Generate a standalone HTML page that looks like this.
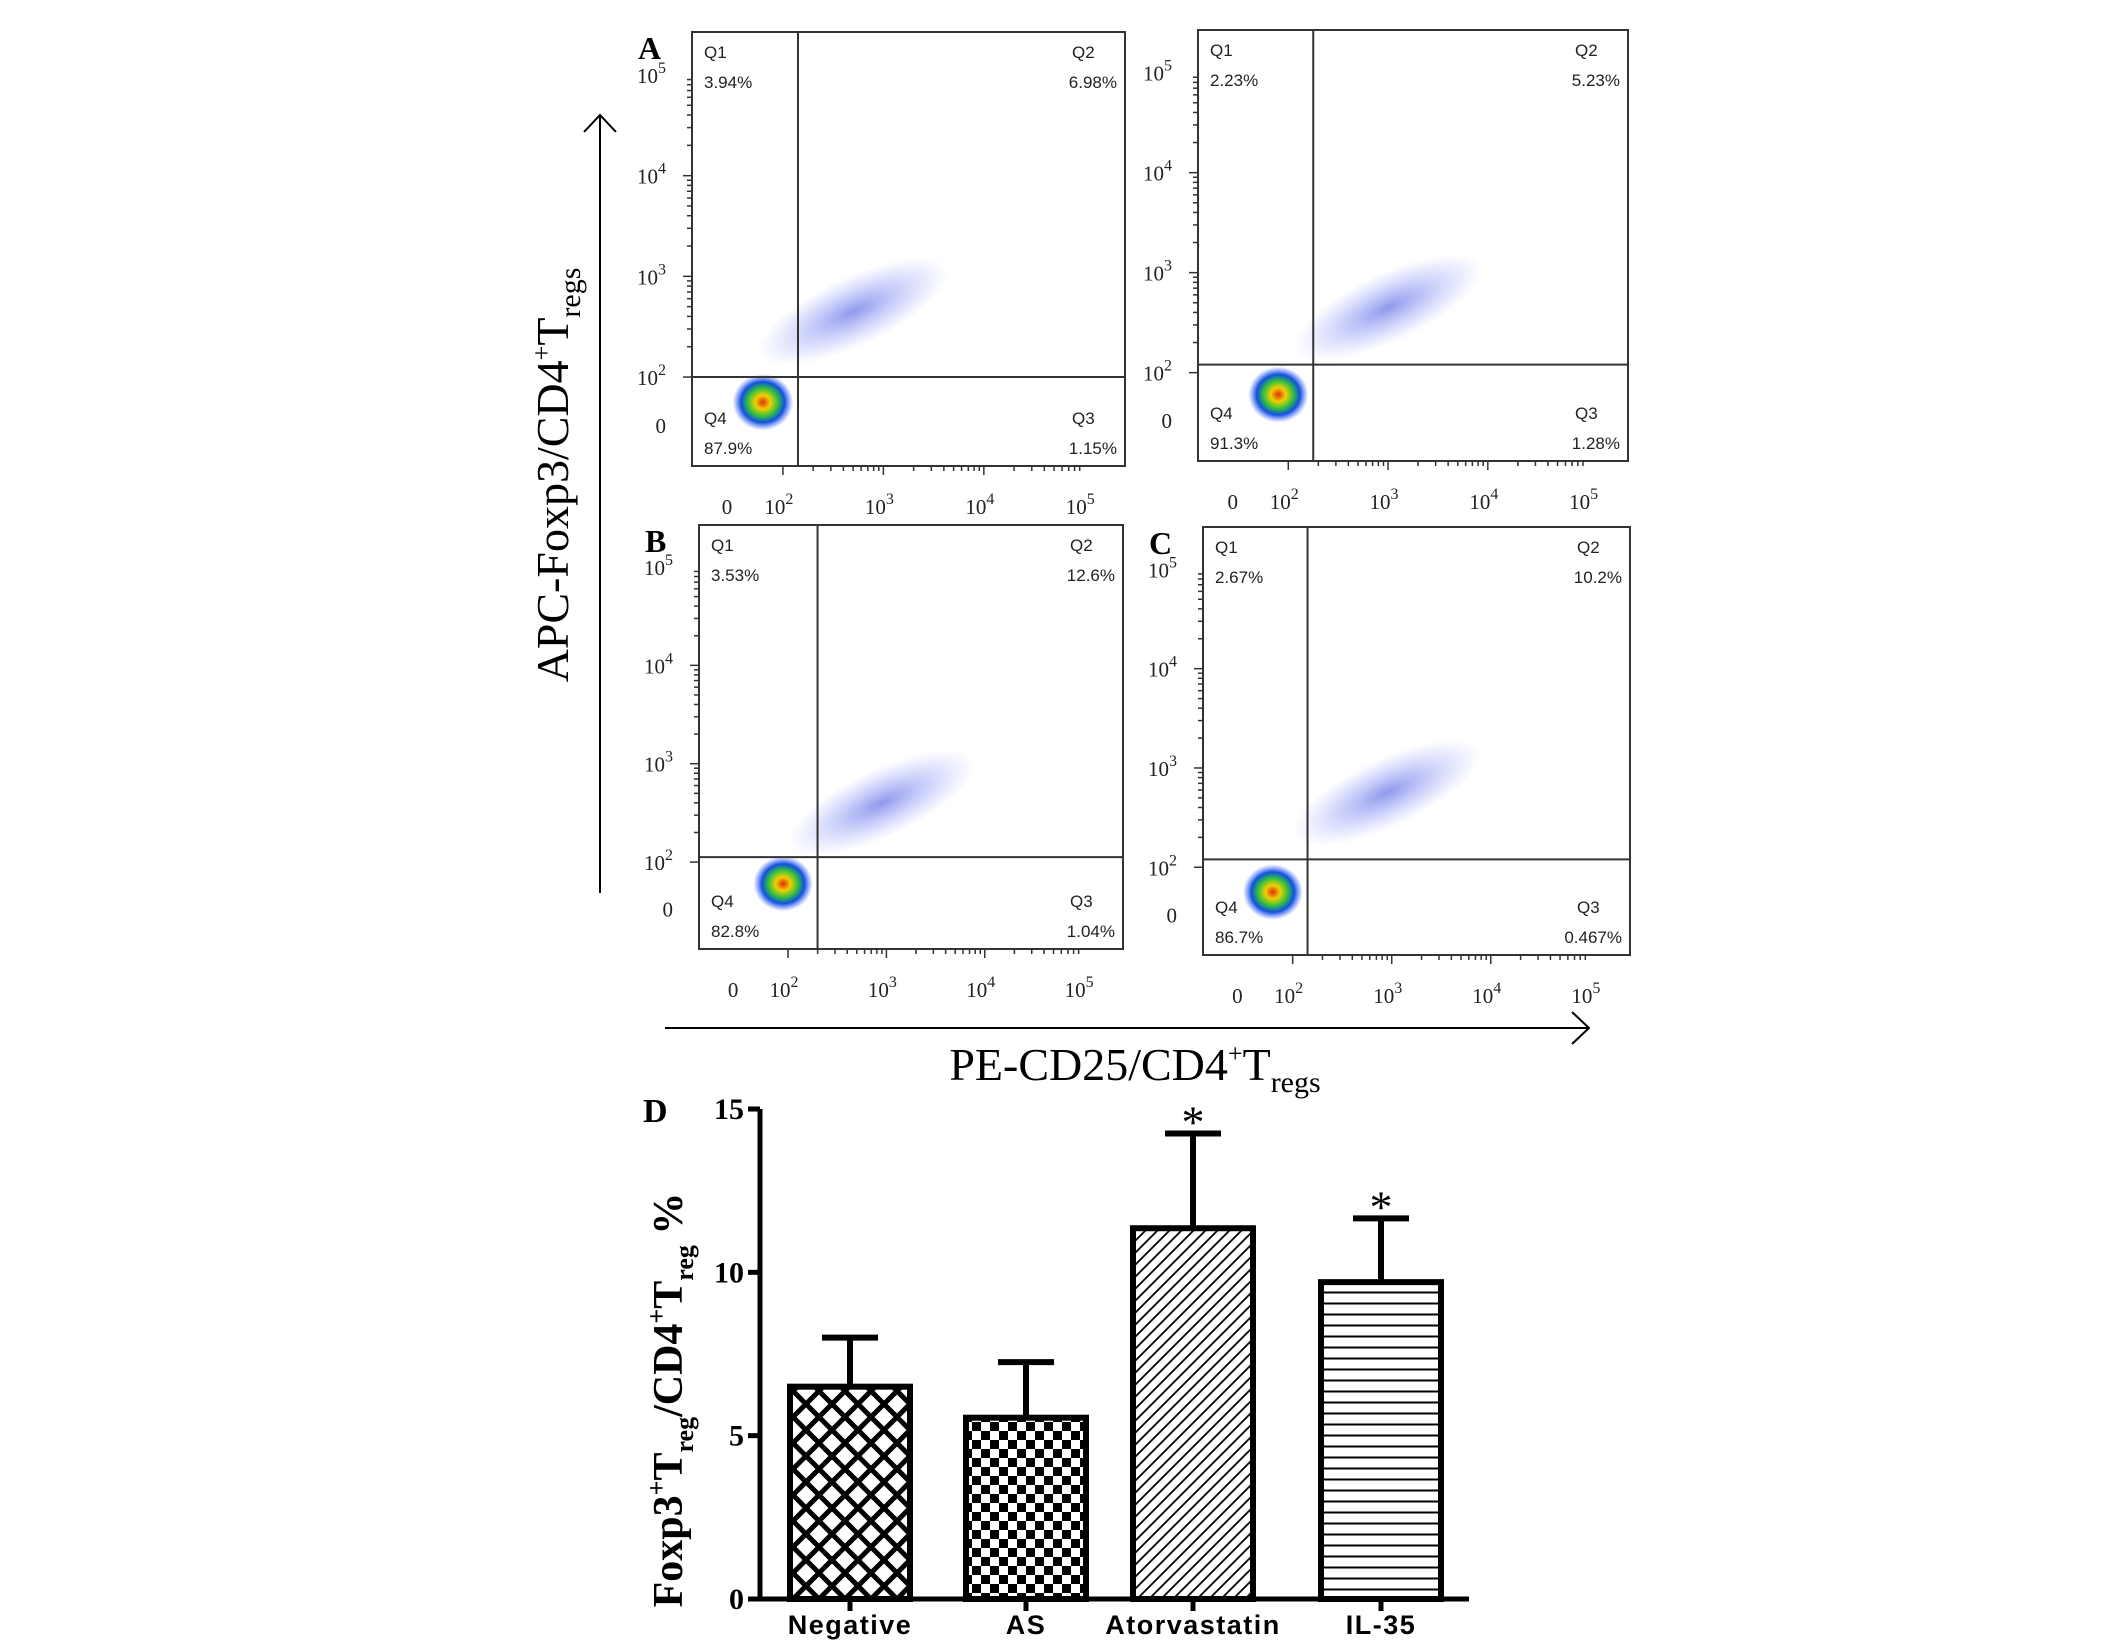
<!DOCTYPE html>
<html><head><meta charset="utf-8"><style>
body{margin:0;background:#fff;overflow:hidden;}
svg{display:block;}
</style></head><body>
<svg id="fig" width="2126" height="1650" viewBox="0 0 2126 1650" xmlns="http://www.w3.org/2000/svg">
<defs>
<radialGradient id="blob" cx="50%" cy="50%" r="50%">
<stop offset="0%" stop-color="#e03010"/><stop offset="25%" stop-color="#f0d000"/><stop offset="50%" stop-color="#30c040"/><stop offset="72%" stop-color="#1050e0"/><stop offset="100%" stop-color="#4060ff" stop-opacity="0"/>
</radialGradient>
<radialGradient id="cloud" cx="50%" cy="50%" r="50%">
<stop offset="0%" stop-color="#3344dd" stop-opacity="0.55"/><stop offset="100%" stop-color="#6677ff" stop-opacity="0"/>
</radialGradient>
<pattern id="pat-cross" width="26" height="26" patternUnits="userSpaceOnUse">
<path d="M0 0L26 26M26 0L0 26" stroke="#000" stroke-width="5"/></pattern>
<pattern id="pat-check" width="18" height="18" patternUnits="userSpaceOnUse">
<rect x="0" y="0" width="9" height="9" fill="#000"/><rect x="9" y="9" width="9" height="9" fill="#000"/></pattern>
<pattern id="pat-diag" width="12" height="12" patternUnits="userSpaceOnUse">
<path d="M-3 15L15 -3M-3 3L3 -3M9 15L15 9" stroke="#000" stroke-width="1.8"/></pattern>
<pattern id="pat-horiz" width="10" height="11" patternUnits="userSpaceOnUse">
<path d="M0 5.5H10" stroke="#000" stroke-width="2"/></pattern>
</defs>
<g id="flow"></g>
<g id="bar"></g>
</svg>
<script>
// ---------- Flow cytometry panel data ----------
const panelNames = ['A','','B','C'];
const q1Vals = ['3.94%','2.23%','3.53%','2.67%'];
const q2Vals = ['6.98%','5.23%','12.6%','10.2%'];
const q3Vals = ['1.15%','1.28%','1.04%','0.467%'];
const q4Vals = ['87.9%','91.3%','82.8%','86.7%'];
const gateX = [2.15, 2.25, 2.3, 2.15];
const gateY = [2.0, 2.08, 2.05, 2.08];
const blobX = [1.8, 1.9, 1.95, 1.8];
const blobY = [1.75, 1.78, 1.78, 1.75];
const cloudX = [2.7, 3.0, 2.95, 2.95];
const cloudY = [2.65, 2.65, 2.6, 2.75];
const xTickLabels = ['0','10','10','10','10'];
const xTickExp = ['','2','3','4','5'];
const tickDecades = [null,2,3,4,5];

const boxes = [[692,32,433,434],[1198,30,430,431],[699,525,424,424],[1203,527,427,428]];
const NS='http://www.w3.org/2000/svg';
function mk(tag, attrs, parent){const e=document.createElementNS(NS,tag);for(const k in attrs)e.setAttribute(k,attrs[k]);parent.appendChild(e);return e;}
const flow=document.getElementById('flow');

boxes.forEach((b,i)=>{
  const [L,T,W,H]=b;
  const g=mk('g',{},flow);
  
  
  const xs=v=>L+W*(0.21+(v-2)*0.232);
  const ys=v=>T+H*(0.795-(v-2)*0.232);
  const zeroX=L+W*0.09, zeroY=T+H*0.905;
  const c=mk('ellipse',{cx:xs(cloudX[i]),cy:ys(cloudY[i]),rx:W*0.24,ry:H*0.08,fill:'url(#cloud)',transform:`rotate(-25 ${xs(cloudX[i])} ${ys(cloudY[i])})`},g);
  
  
  const bl=mk('ellipse',{cx:xs(blobX[i]),cy:ys(blobY[i]),rx:W*0.07,ry:H*0.065,fill:'url(#blob)'},g);
  
  
  const r=mk('rect',{x:L,y:T,width:W,height:H,fill:'none',stroke:'#333','stroke-width':2},g);
  
  
  const gv=mk('line',{x1:xs(gateX[i]),x2:xs(gateX[i]),y1:T,y2:T+H,stroke:'#333','stroke-width':2},g);
  
  
  const gh=mk('line',{x1:L,x2:L+W,y1:ys(gateY[i]),y2:ys(gateY[i]),stroke:'#333','stroke-width':2},g);
  
  
  for(let d=2;d<5;d++)for(let m=1;m<10;m++){const v=d+Math.log10(m);
    mk('line',{x1:xs(v),x2:xs(v),y1:T+H,y2:T+H+(m==1?9:5),stroke:'#333','stroke-width':1.5},g);
    mk('line',{y1:ys(v),y2:ys(v),x1:L,x2:L-(m==1?9:5),stroke:'#333','stroke-width':1.5},g);}
  const qs=[['Q1',q1Vals[i],L+12,T+26,'start'],['Q2',q2Vals[i],L+W-8,T+26,'end'],['Q4',q4Vals[i],L+12,T+H-42,'start'],['Q3',q3Vals[i],L+W-8,T+H-42,'end']];
  qs.forEach(q=>{
    const t=mk('text',{x:q[4]=='end'?q[2]-45:q[2],y:q[3],'font-family':'Liberation Sans, sans-serif','font-size':17,fill:'#222'},g);t.textContent=q[0];
    
    
    const p=mk('text',{x:q[2],y:q[3]+30,'text-anchor':q[4],'font-family':'Liberation Sans, sans-serif','font-size':17,fill:'#222'},g);p.textContent=q[1];
    
    
  });
  tickDecades.forEach((d,k)=>{
    const x=d===null?zeroX:xs(d), y=d===null?zeroY:ys(d);
    const tx=mk('text',{x:x-4,y:T+H+48,'text-anchor':'middle','font-family':'Liberation Serif, serif','font-size':21,fill:'#222'},g);
    tx.textContent=xTickLabels[k];
    if(xTickExp[k]){const s=mk('tspan',{dy:-10,'font-size':16},tx);s.textContent=xTickExp[k];}
    
    
    const ty=mk('text',{x:L-26,y:y+8,'text-anchor':'end','font-family':'Liberation Serif, serif','font-size':21,fill:'#222'},g);
    ty.textContent=xTickLabels[k];
    if(xTickExp[k]){const s=mk('tspan',{dy:-10,'font-size':16},ty);s.textContent=xTickExp[k];}
    
    
  });
  if(panelNames[i]){const pl=mk('text',{x:L-54,y:T+27,'font-family':'Liberation Serif, serif','font-weight':'bold','font-size':32},g);pl.textContent=panelNames[i];
    
    }
});
(function(){
  const ax=mk('path',{d:'M665 1028H1589M1572 1012L1589 1028L1572 1044',fill:'none',stroke:'#000','stroke-width':2},flow);
  
  
  const ay=mk('path',{d:'M600 893V115M584 132L600 115L616 132',fill:'none',stroke:'#000','stroke-width':2},flow);
  
  
  const xt=mk('text',{x:1135,y:1080,'text-anchor':'middle','font-family':'Liberation Serif, serif','font-size':46},flow);
  xt.innerHTML='PE-CD25/CD4<tspan dy="-18" font-size="26">+</tspan><tspan dy="18">T</tspan><tspan dy="12" font-size="30">regs</tspan>';
  
  
  const yt=mk('text',{x:0,y:0,'text-anchor':'middle','font-family':'Liberation Serif, serif','font-size':46,transform:'translate(568 475) rotate(-90)'},flow);
  yt.innerHTML='APC-Foxp3/CD4<tspan dy="-18" font-size="26">+</tspan><tspan dy="18">T</tspan><tspan dy="12" font-size="30">regs</tspan>';
  
  
})();

// ---------- Bar chart data ----------
const categories = ['Negative','AS','Atorvastatin','IL-35'];
const means = [6.5, 5.55, 11.35, 9.7];
const errs = [1.5, 1.7, 2.9, 1.95];
const sig = ['', '', '*', '*'];
const yTicks = [0, 5, 10, 15];
const patterns = ['url(#pat-cross)','url(#pat-check)','url(#pat-diag)','url(#pat-horiz)'];

const bar=document.getElementById('bar');
const y0=1599, yTop=1109, axX=760, axEnd=1469;
const yScale=v=>y0-(y0-yTop)*v/15;
const barCenters=[850,1026,1193,1381];
const bw=120;
const xScale=i=>barCenters[i];
const axis=mk('path',{d:`M${axX} ${yTop}V${y0}H${axEnd}`,fill:'none',stroke:'#000','stroke-width':5},bar);


yTicks.forEach(t=>{
  mk('line',{x1:axX-12,x2:axX,y1:yScale(t),y2:yScale(t),stroke:'#000','stroke-width':5},bar);
  const tx=mk('text',{x:axX-16,y:yScale(t)+10,'text-anchor':'end','font-family':'Liberation Serif, serif','font-weight':'bold','font-size':30},bar);
  tx.textContent=t;
  
  
});
categories.forEach((c,i)=>{
  const cx=xScale(i);
  const top=yScale(means[i]), et=yScale(means[i]+errs[i]);
  const el=mk('line',{x1:cx,x2:cx,y1:et,y2:top,stroke:'#000','stroke-width':6},bar);
  
  
  const cap=mk('line',{x1:cx-28,x2:cx+28,y1:et,y2:et,stroke:'#000','stroke-width':6},bar);
  
  
  mk('rect',{x:cx-bw/2,y:top,width:bw,height:y0-top,fill:'#fff'},bar);
  const r=mk('rect',{x:cx-bw/2,y:top,width:bw,height:y0-top,fill:patterns[i],stroke:'#000','stroke-width':6},bar);
  
  
  mk('line',{x1:cx,x2:cx,y1:y0,y2:y0+12,stroke:'#000','stroke-width':5},bar);
  const lb=mk('text',{x:cx,y:1634,'text-anchor':'middle','font-family':'Liberation Sans, sans-serif','font-weight':'bold','font-size':27,'letter-spacing':1.5},bar);
  lb.textContent=c;
  
  
  if(sig[i]){const s=mk('text',{x:cx,y:et+4,'text-anchor':'middle','font-family':'Liberation Serif, serif','font-size':46},bar);s.textContent=sig[i];
    
    }
});
const dl=mk('text',{x:643,y:1122,'font-family':'Liberation Serif, serif','font-weight':'bold','font-size':34},bar);
dl.textContent='D';


const yl=mk('text',{x:0,y:0,'text-anchor':'middle','font-family':'Liberation Serif, serif','font-weight':'bold','font-size':42,transform:'translate(682 1400) rotate(-90)'},bar);
yl.innerHTML='Foxp3<tspan dy="-17" font-size="26">+</tspan><tspan dy="17">T</tspan><tspan dy="11" font-size="26">reg</tspan><tspan dy="-11">/CD4</tspan><tspan dy="-17" font-size="26">+</tspan><tspan dy="17">T</tspan><tspan dy="11" font-size="26">reg</tspan><tspan dy="-11"> %</tspan>';


</script>
</body></html>
